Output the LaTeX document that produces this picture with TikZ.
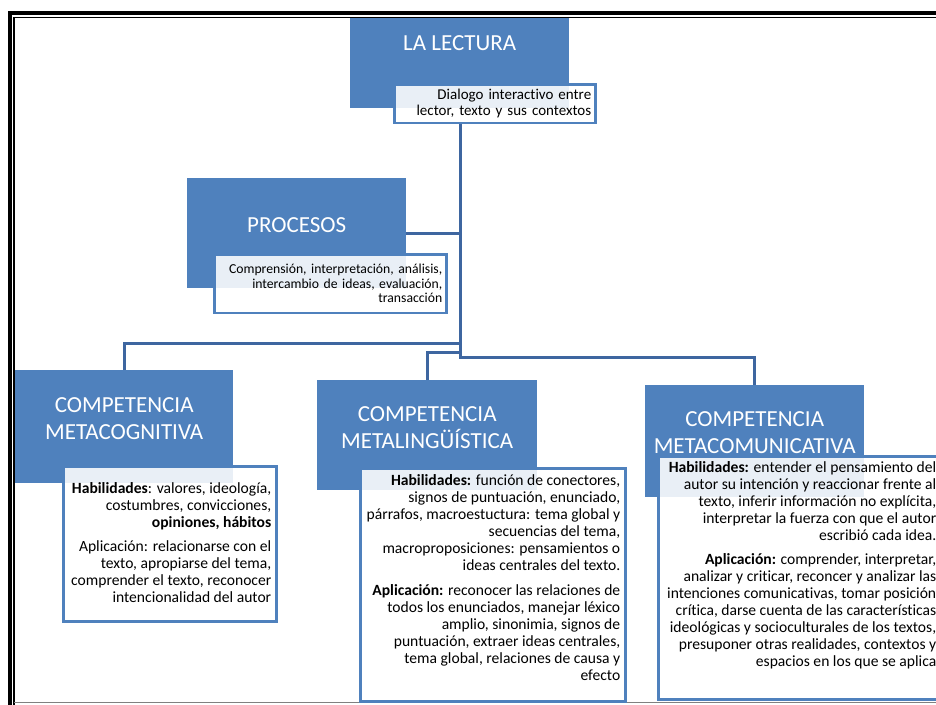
\documentclass[tikz,border=0pt]{standalone}
\usepackage{fontspec}
\setmainfont{Carlito}[Ligatures=NoCommon]
\usepackage{tikz}
\usetikzlibrary{positioning}

\definecolor{boxblue}{RGB}{79,129,189}
\definecolor{lineblue}{RGB}{62,102,160}

\begin{document}
\begin{tikzpicture}[x=1pt,y=-1pt,
		main node/.style={rectangle,fill=boxblue,inner sep=0pt,anchor=north west},
		title node/.style={text=white,align=center,inner sep=0pt,font=\fontsize{23}{27}\selectfont},
		desc node/.style={rectangle,draw=boxblue,line width=2.5pt,fill=white,fill opacity=0.88,
			text opacity=1,anchor=north west,font=\fontsize{15.6}{17}\selectfont},
		conn/.style={draw=lineblue,line width=3pt}]
		
		\useasboundingbox (0,0) rectangle (936,704);
		\clip (0,0) rectangle (936,704);
		
		% frame
		\draw[line width=4pt] (10.3,710) -- (10.3,13) -- (945,13);
		\draw[line width=1.6pt] (14.2,710) -- (14.2,17.5) -- (945,17.5);
		\draw[gray,line width=1.5pt] (14,702.5) -- (945,702.5);
		
		% blue boxes
		\node[main node,minimum width=219pt,minimum height=90pt] (lect) at (350,18) {};
		\node[main node,minimum width=219pt,minimum height=110pt] (proc) at (187,178) {};
		\node[main node,minimum width=218pt,minimum height=113pt] (cog) at (15,370) {};
		\node[main node,minimum width=220pt,minimum height=110pt] (ling) at (317,380) {};
		\node[main node,minimum width=219pt,minimum height=112pt] (com) at (645,385) {};
		
		\node[title node] (lecttitle) [below=17.5pt of lect.north] {LA LECTURA};
		\node[title node] (proctitle) [below=39.6pt of proc.north] {PROCESOS};
		\node[title node] (cogtitle) [below=27.6pt of cog.north] {COMPETENCIA\\METACOGNITIVA};
		\node[title node] (lingtitle) [below=26.6pt of ling.north] {COMPETENCIA\\METALINGÜÍSTICA};
		\node[title node] (comtitle) [below=26.6pt of com.north] {COMPETENCIA\\METACOMUNICATIVA};
		
		% white boxes
		\node[desc node,font=\fontsize{15}{16}\selectfont,text width=193pt,inner xsep=4pt,inner ysep=5pt,
			align=right] (dlg) at (393,83) {Dialogo interactivo entre\\lector, texto y sus contextos};
		\node[desc node,font=\fontsize{13.7}{14.5}\selectfont,text width=224pt,inner xsep=4pt,inner ysep=10pt,
			align=right] (procd) at (213,253) {Comprensión, interpretación, análisis,\\intercambio de ideas, evaluación,\\transacción};
		\node[desc node,inner xsep=5pt,inner ysep=16pt] (cogd) at (62,465) {\parbox[t][123pt][t]{203pt}{\raggedleft
			\textbf{Habilidades}: valores, ideología,\\ costumbres, convicciones,\\ \textbf{opiniones, hábitos}\par\vspace{7pt}
			Aplicación: relacionarse con el\\ texto, apropiarse del tema,\\ comprender el texto, reconocer\\ intencionalidad del autor}};
		\node[desc node,inner xsep=5pt,inner ysep=6pt] (lingd) at (359,467) {\parbox[t][221pt][t]{255pt}{\raggedleft
			\textbf{Habilidades:} función de conectores,\\ signos de puntuación, enunciado,\\ párrafos, macroestuctura: tema global y\\
			secuencias del tema,\\ macroproposiciones: pensamientos o\\ ideas centrales del texto.\par\vspace{8pt}
			\textbf{Aplicación:} reconocer las relaciones de\\ todos los enunciados, manejar léxico\\ amplio, sinonimia, signos de\\
			puntuación, extraer ideas centrales,\\ tema global, relaciones de causa y\\ efecto}};
		\node[desc node,inner xsep=6pt,inner ysep=5pt] (comd) at (657,455) {\parbox[t][233pt][t]{272pt}{\raggedleft
			\textbf{Habilidades:} entender el pensamiento del\\ autor su intención y reaccionar frente al\\ texto, inferir información no explícita,\\
			interpretar la fuerza con que el autor\\ escribió cada idea.\par\vspace{7pt}
			\textbf{Aplicación:} comprender, interpretar,\\ analizar y criticar, reconcer y analizar las\\ intenciones comunicativas, tomar posición\\
			crítica, darse cuenta de las características\\ ideológicas y socioculturales de los textos,\\ presuponer otras realidades, contextos y\\
			espacios en los que se aplica}};
		
		% connectors
		\coordinate (jcog) at (460,343);
		\coordinate (jling) at (460,352);
		\coordinate (jcom) at (460,357);
		\path[conn] (dlg.south -| jcom) -- (jcom) -| (com.north);
		\path[conn] (proc.east) -- (proc.east -| jcom);
		\path[conn] (jcog) -| (cog.north);
		\path[conn] (jling) -| (ling.north);
\end{tikzpicture}
\end{document}
